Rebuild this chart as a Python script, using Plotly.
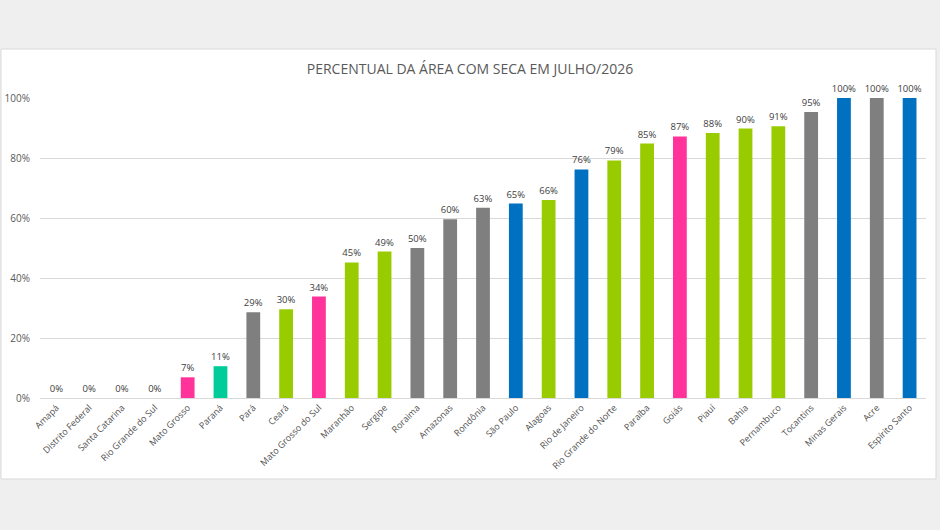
import plotly.graph_objects as go

estados = ["Amapá", "Distrito Federal", "Santa Catarina", "Rio Grande do Sul", "Mato Grosso",
           "Paraná", "Pará", "Ceará", "Mato Grosso do Sul", "Maranhão", "Sergipe", "Roraima",
           "Amazonas", "Rondônia", "São Paulo", "Alagoas", "Rio de Janeiro", "Rio Grande do Norte",
           "Paraíba", "Goiás", "Piauí", "Bahia", "Pernambuco", "Tocantins", "Minas Gerais",
           "Acre", "Espírito Santo"]
percentual = [0, 0, 0, 0, 6.9, 10.6, 28.6, 29.6, 33.8, 45.2, 48.8, 50.0, 59.6, 63.4, 64.8,
              66.0, 76.2, 79.2, 84.8, 87.2, 88.3, 89.8, 90.6, 95.3, 100, 100, 100]
regiao = ["N", "CO", "S", "S", "CO", "S", "N", "NE", "CO", "NE", "NE", "N", "N", "N", "SE",
          "NE", "SE", "NE", "NE", "CO", "NE", "NE", "NE", "N", "SE", "N", "SE"]
cores_regiao = {"N": "#7f7f7f", "NE": "#99cc00", "CO": "#ff3399", "S": "#00cc99", "SE": "#0070c0"}
cores = [cores_regiao[r] for r in regiao]
rotulos = [f"{int(v + 0.5)}%" for v in percentual]

fig = go.Figure(go.Bar(
    x=estados, y=percentual, marker=dict(color=cores, line=dict(width=0)),
    text=rotulos, textposition="outside", cliponaxis=False, constraintext="none",
    textfont=dict(family="Open Sans", size=9.5, color="#404040"),
    hoverinfo="skip"))

L, R, T, B = 40, 14, 98, 132
W, H = 940, 530
pw, ph = W - L - R, H - T - B
def px(x): return (x - L) / pw
def py(y): return (H - B - y) / ph

fig.add_shape(type="rect", xref="paper", yref="paper", layer="below",
              x0=px(1), x1=px(936), y0=py(479), y1=py(49),
              fillcolor="white", line=dict(color="#d9d9d9", width=1))

fig.update_layout(
    width=W, height=H, margin=dict(l=L, r=R, t=T, b=B, autoexpand=False),
    paper_bgcolor="#efefef", plot_bgcolor="white",
    bargap=0.58, showlegend=False,
    title=dict(text="PERCENTUAL DA ÁREA COM SECA EM JULHO/2026", x=0.5, xanchor="center",
               y=1 - 69 / H, yanchor="middle", yref="container",
               font=dict(family="Open Sans", size=14, color="#595959")),
    xaxis=dict(tickangle=-45, tickfont=dict(family="Open Sans", size=9, color="#505050"),
               showgrid=False, showline=True, linecolor="#d9d9d9", ticks="", automargin=False),
    yaxis=dict(range=[0, 100], tickvals=[0, 20, 40, 60, 80, 100],
               ticktext=["0%", "20%", "40%", "60%", "80%", "100%"],
               tickfont=dict(family="Open Sans", size=10, color="#595959"),
               gridcolor="#d9d9d9", gridwidth=1, zeroline=False, ticks="", ticklen=0,
               ticklabelstandoff=9, automargin=False),
    font=dict(family="Open Sans"),
)

fig.write_html("out.html", config={"displayModeBar": False},
               post_script="document.body.style.margin='0';document.body.style.background='#efefef';")
